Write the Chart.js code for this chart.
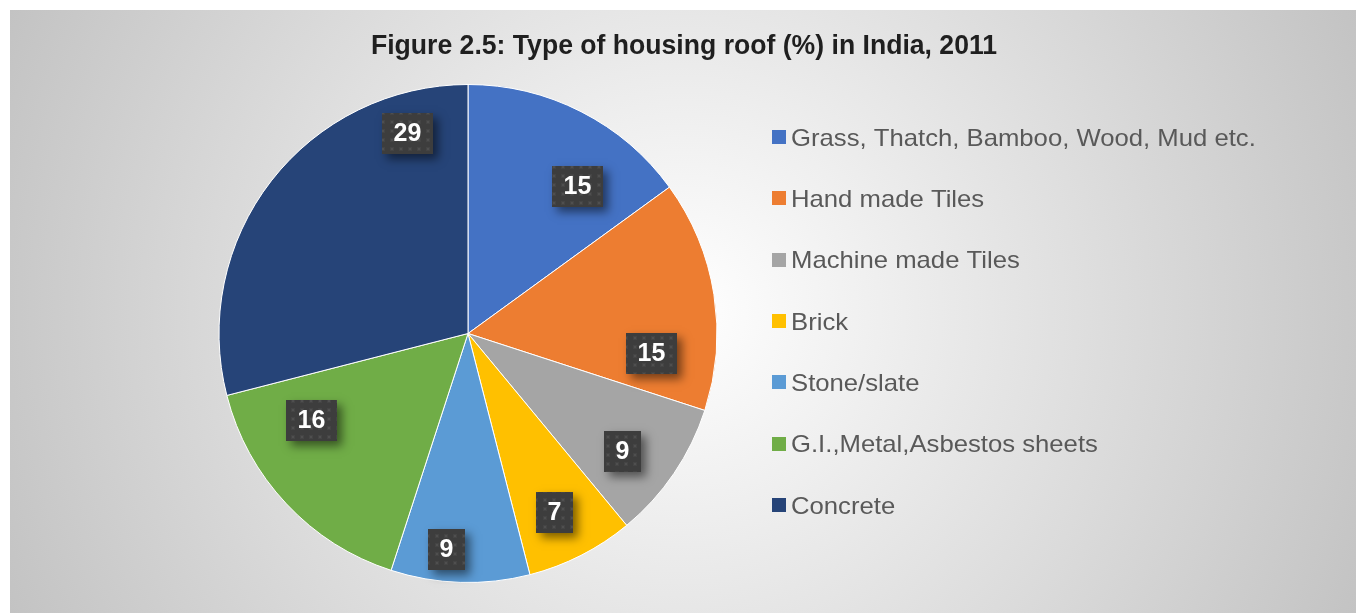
<!DOCTYPE html>
<html>
<head>
<meta charset="utf-8">
<title>Type of housing roof (%) in India, 2011</title>
<script src="https://cdn.jsdelivr.net/npm/chart.js@4.4.1/dist/chart.umd.min.js"></script>
<style>
  html, body { margin: 0; padding: 0; background: #ffffff; }
  body { width: 1356px; height: 614px; position: relative; overflow: hidden; }
  #frame {
    position: absolute; left: 10px; top: 10px; width: 1346px; height: 603px;
    background: radial-gradient(circle farthest-corner at 50% 50%, #ffffff 0%, #c3c3c3 100%);
  }
</style>
</head>
<body>
<div id="frame"><canvas id="roofChart" width="1346" height="603"></canvas></div>
<script>
const chartTitle = 'Figure 2.5: Type of housing roof (%) in India, 2011';
const roofTypes = [
    'Grass, Thatch, Bamboo, Wood, Mud etc.',
    'Hand made Tiles',
    'Machine made Tiles',
    'Brick',
    'Stone/slate',
    'G.I.,Metal,Asbestos sheets',
    'Concrete'
];
const roofShares = [15, 15, 9, 7, 9, 16, 29];
const sliceColors = ['#4472C4', '#ED7D31', '#A5A5A5', '#FFC000', '#5B9BD5', '#70AD47', '#264478'];

// where each value box sits inside its slice: fraction of the slice sweep, fraction of the radius
const labelSpots = [
    { at: 0.68, r: 0.735 },
    { at: 0.78, r: 0.74 },
    { at: 0.60, r: 0.78 },
    { at: 0.55, r: 0.80 },
    { at: 0.62, r: 0.87 },
    { at: 0.745, r: 0.72 },
    { at: 0.84, r: 0.84 }
];

const FONT = '"Liberation Sans", Arial, Helvetica, sans-serif';

// faint dotted texture for the value boxes
const makeDots = () => {
    const c = document.createElement('canvas');
    c.width = 9; c.height = 9;
    const g = c.getContext('2d');
    g.fillStyle = 'rgba(255,255,255,0.04)';
    g.fillRect(2, 2, 4, 4);
    g.fillStyle = 'rgba(255,255,255,0.06)';
    g.fillRect(3, 3, 2, 2);
    return c;
}

const valueBoxes = {
    id: 'valueBoxes',
    afterDatasetsDraw(chart) {
        const ctx = chart.ctx;
        const pattern = ctx.createPattern(makeDots(), 'repeat');
        const values = chart.data.datasets[0].data;
        chart.getDatasetMeta(0).data.forEach((arc, i) => {
            const {x, y, startAngle, endAngle, outerRadius} =
                arc.getProps(['x', 'y', 'startAngle', 'endAngle', 'outerRadius'], true);
            const spot = labelSpots[i];
            const a = startAngle + (endAngle - startAngle) * spot.at;
            const cx = x + Math.cos(a) * outerRadius * spot.r;
            const cy = y + Math.sin(a) * outerRadius * spot.r;
            const text = String(values[i]);

            ctx.save();
            ctx.font = 'bold 25px ' + FONT;
            const w = Math.round(ctx.measureText(text).width + 23);
            const h = 41;
            const left = Math.round(cx - w / 2), top = Math.round(cy - h / 2);

            ctx.shadowColor = 'rgba(0,0,0,0.5)';
            ctx.shadowBlur = 9;
            ctx.shadowOffsetX = 5;
            ctx.shadowOffsetY = 5;
            ctx.fillStyle = '#3d3d3d';
            ctx.fillRect(left, top, w, h);
            ctx.shadowColor = 'transparent';

            ctx.fillStyle = pattern;
            ctx.fillRect(left, top, w, h);

            ctx.fillStyle = '#ffffff';
            ctx.textAlign = 'center';
            ctx.textBaseline = 'middle';
            ctx.fillText(text, left + w / 2, top + h / 2 + 1);
            ctx.restore();
        });
    }
};

// title and legend are laid out free of the pie's padded area
const titleAndLegend = {
    id: 'titleAndLegend',
    afterDraw(chart) {
        const ctx = chart.ctx;
        ctx.save();

        ctx.font = 'bold 28px ' + FONT;
        ctx.fillStyle = '#1f1f1f';
        ctx.textAlign = 'center';
        ctx.textBaseline = 'alphabetic';
        ctx.translate(chart.width / 2 + 1, 44);
        ctx.scale(0.95, 1);
        ctx.fillText(chartTitle, 0, 0);
        ctx.setTransform(1, 0, 0, 1, 0, 0);

        const colors = chart.data.datasets[0].backgroundColor;
        const firstY = 127, step = 61.33;
        chart.data.labels.forEach((label, i) => {
            const yy = firstY + step * i;
            ctx.fillStyle = colors[i];
            ctx.fillRect(762, Math.round(yy - 7), 14, 14);

            ctx.save();
            ctx.font = '24px ' + FONT;
            ctx.fillStyle = '#595959';
            ctx.textAlign = 'left';
            ctx.textBaseline = 'middle';
            ctx.translate(781, yy + 2);
            ctx.scale(1.07, 1);
            ctx.fillText(label, 0, 0);
            ctx.restore();
        });
        ctx.restore();
    }
};

new Chart(document.getElementById('roofChart'), {
    type: 'pie',
    data: {
        labels: roofTypes,
        datasets: [{
            data: roofShares,
            backgroundColor: sliceColors,
            borderColor: '#ffffff',
            borderWidth: 1
        }]
    },
    options: {
        responsive: false,
        animation: false,
        layout: {
            padding: { left: 208, right: 638, top: 74, bottom: 30 }
        },
        plugins: {
            legend: { display: false },
            title: { display: false },
            tooltip: { enabled: false }
        }
    },
    plugins: [valueBoxes, titleAndLegend]
});
</script>
</body>
</html>
